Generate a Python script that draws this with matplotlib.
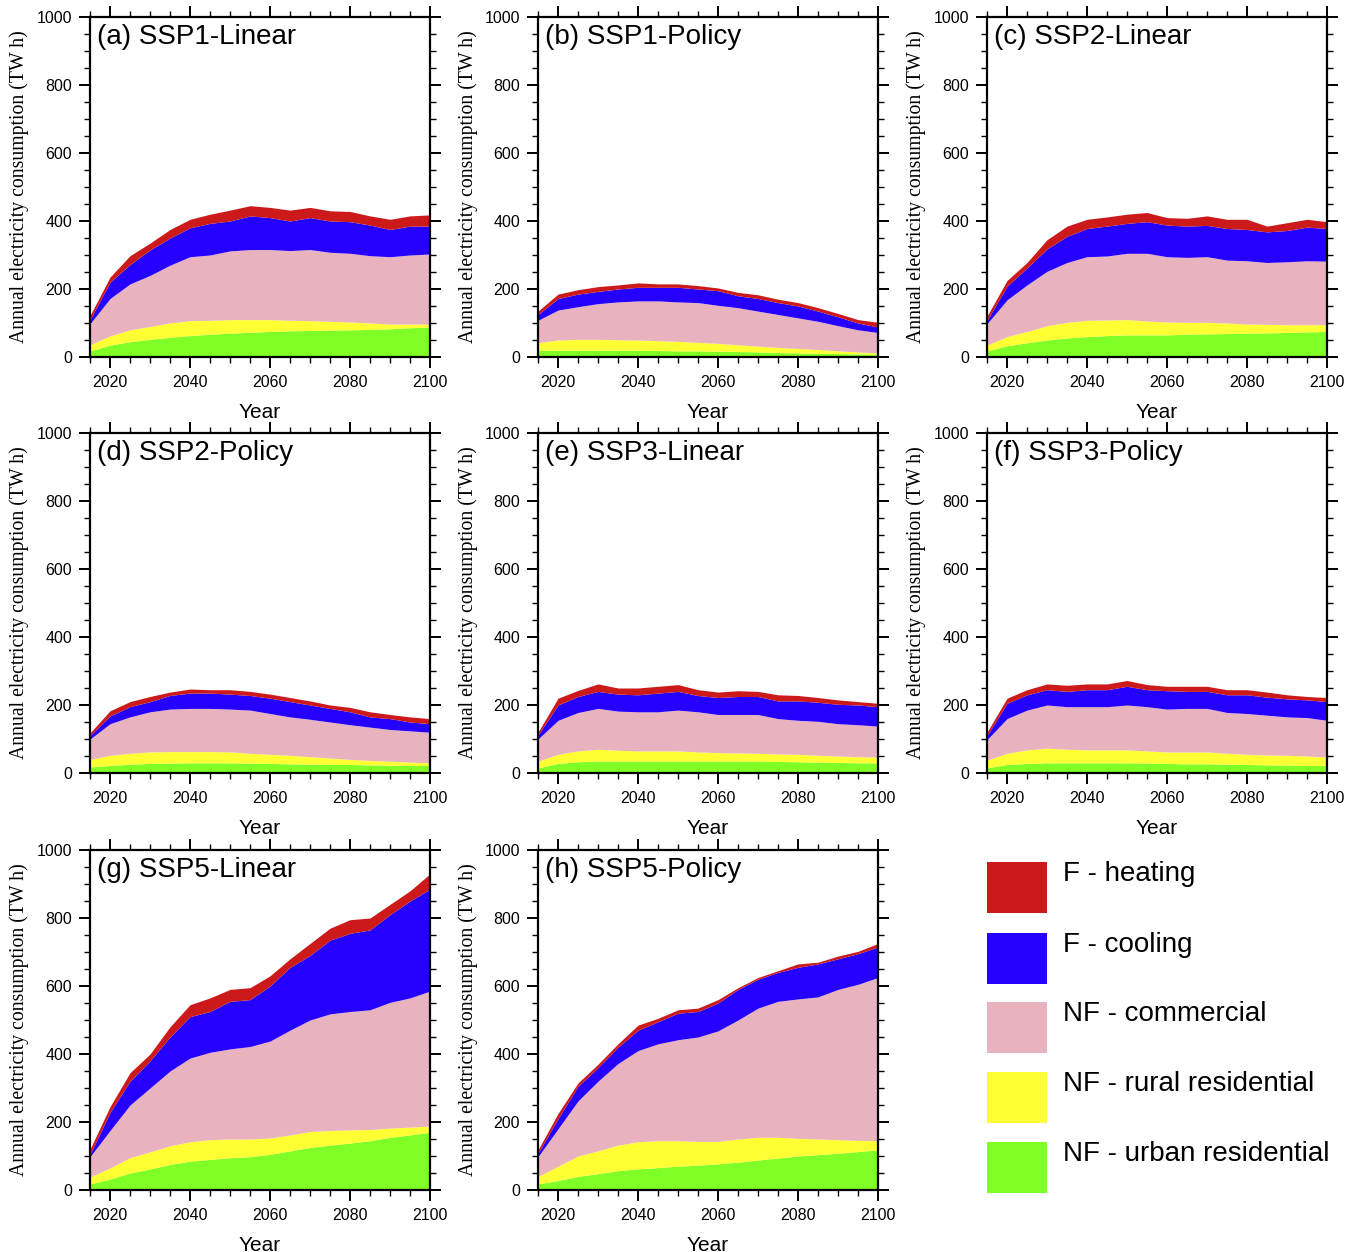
import matplotlib
matplotlib.use("Agg")
import matplotlib.pyplot as plt
from matplotlib.patches import Rectangle
import numpy as np

years = np.arange(2015, 2101, 5)

panels = ["(a) SSP1-Linear", "(b) SSP1-Policy", "(c) SSP2-Linear", "(d) SSP2-Policy",
          "(e) SSP3-Linear", "(f) SSP3-Policy", "(g) SSP5-Linear", "(h) SSP5-Policy"]

layer_names = ["NF - urban residential", "NF - rural residential", "NF - commercial",
               "F - cooling", "F - heating"]
layer_colors = ["#80ff26", "#ffff33", "#e8b3be", "#2600ff", "#cc1a1a"]

# cumulative top of each layer (TW h), read at 5-year steps
urban_top = [
    [18, 35, 45, 52, 58, 63, 67, 70, 73, 75, 77, 78, 79, 80, 81, 83, 86, 88],
    [20, 20, 20, 20, 20, 20, 19, 18, 18, 17, 16, 15, 13, 12, 11, 10, 9, 8],
    [18, 33, 42, 50, 56, 60, 63, 65, 65, 65, 67, 68, 69, 70, 71, 72, 74, 75],
    [18, 22, 26, 28, 29, 30, 30, 30, 29, 28, 27, 26, 25, 25, 24, 23, 22, 22],
    [15, 28, 33, 35, 35, 35, 35, 35, 35, 35, 35, 35, 34, 33, 32, 31, 30, 30],
    [15, 25, 28, 30, 30, 30, 30, 30, 29, 28, 27, 27, 26, 25, 24, 23, 22, 22],
    [18, 32, 50, 62, 75, 85, 90, 95, 98, 105, 115, 125, 132, 138, 145, 155, 162, 170],
    [18, 28, 40, 48, 57, 62, 66, 70, 73, 77, 82, 88, 94, 100, 104, 108, 113, 118],
]
rural_top = [
    [36, 62, 80, 90, 100, 107, 108, 110, 110, 110, 108, 107, 105, 103, 100, 97, 97, 97],
    [42, 50, 52, 52, 51, 50, 48, 46, 43, 40, 36, 32, 28, 25, 22, 18, 15, 12],
    [35, 60, 75, 92, 102, 108, 109, 110, 106, 103, 102, 102, 100, 97, 96, 95, 95, 95],
    [40, 52, 58, 62, 63, 63, 63, 62, 58, 55, 52, 48, 44, 40, 37, 35, 32, 30],
    [35, 55, 65, 70, 67, 65, 65, 65, 62, 60, 59, 58, 56, 55, 52, 50, 48, 47],
    [38, 58, 68, 73, 70, 68, 68, 68, 65, 62, 62, 62, 58, 55, 53, 52, 50, 47],
    [38, 65, 95, 112, 130, 142, 148, 150, 150, 153, 162, 172, 175, 177, 178, 182, 185, 188],
    [40, 70, 100, 115, 132, 142, 145, 145, 143, 143, 150, 155, 155, 152, 150, 148, 146, 145],
]
commercial_top = [
    [98, 172, 215, 240, 270, 295, 300, 312, 316, 316, 313, 316, 308, 305, 298, 295, 300, 303],
    [108, 138, 148, 157, 162, 165, 165, 162, 160, 152, 145, 135, 125, 115, 105, 92, 80, 72],
    [98, 168, 212, 252, 278, 295, 297, 305, 305, 295, 293, 295, 285, 283, 278, 280, 283, 282],
    [100, 145, 165, 180, 188, 190, 190, 188, 185, 175, 165, 158, 150, 142, 135, 128, 124, 120],
    [100, 155, 178, 190, 182, 180, 180, 185, 180, 172, 172, 172, 160, 155, 152, 145, 142, 138],
    [98, 160, 185, 200, 195, 195, 195, 200, 195, 188, 190, 190, 178, 175, 170, 165, 163, 155],
    [98, 175, 250, 300, 350, 388, 405, 415, 422, 438, 470, 500, 518, 525, 530, 552, 565, 585],
    [98, 180, 262, 320, 372, 410, 430, 442, 450, 468, 500, 535, 555, 562, 568, 590, 605, 625],
]
cooling_top = [
    [110, 220, 272, 315, 350, 380, 393, 400, 415, 410, 400, 410, 400, 398, 388, 375, 385, 385],
    [125, 172, 185, 193, 200, 205, 205, 205, 200, 195, 180, 172, 160, 150, 135, 118, 100, 88],
    [108, 208, 262, 318, 355, 378, 385, 393, 398, 388, 385, 387, 378, 375, 368, 372, 382, 378],
    [110, 168, 195, 210, 228, 235, 235, 232, 228, 220, 210, 200, 190, 180, 165, 160, 150, 145],
    [112, 200, 225, 240, 232, 230, 235, 240, 228, 222, 225, 225, 212, 212, 208, 202, 200, 195],
    [110, 205, 230, 245, 240, 245, 245, 255, 245, 242, 240, 240, 230, 230, 223, 218, 215, 210],
    [105, 228, 320, 380, 450, 510, 525, 555, 560, 600, 655, 690, 735, 755, 765, 810, 850, 885],
    [108, 210, 305, 360, 420, 470, 495, 520, 525, 550, 590, 620, 640, 655, 665, 680, 695, 715],
]
heating_top = [
    [122, 235, 298, 335, 375, 405, 420, 432, 445, 440, 432, 440, 430, 428, 415, 405, 415, 418],
    [135, 185, 198, 207, 212, 218, 215, 215, 210, 203, 190, 183, 170, 160, 145, 128, 110, 102],
    [120, 225, 278, 345, 385, 405, 412, 420, 425, 410, 408, 415, 405, 405, 385, 395, 405, 398],
    [118, 183, 210, 225, 238, 247, 245, 245, 240, 232, 222, 212, 200, 193, 180, 172, 165, 160],
    [120, 220, 243, 262, 250, 250, 255, 260, 245, 238, 242, 240, 230, 228, 222, 215, 210, 205],
    [120, 220, 245, 262, 258, 262, 262, 272, 260, 255, 255, 255, 245, 245, 238, 230, 225, 222],
    [120, 245, 345, 400, 480, 545, 565, 590, 595, 630, 680, 725, 770, 795, 800, 840, 880, 930],
    [118, 225, 315, 370, 430, 485, 505, 530, 535, 560, 595, 625, 645, 665, 670, 688, 702, 725],
]

W, H = 1353, 1252
fig = plt.figure(figsize=(W / 100, H / 100), dpi=100)

col_left = [90, 538, 987]
row_bottom = [357, 773, 1190]
size = 340

for i, title in enumerate(panels):
    r, c = divmod(i, 3)
    ax = fig.add_axes([col_left[c] / W, 1 - row_bottom[r] / H, size / W, size / H])
    tops = [urban_top[i], rural_top[i], commercial_top[i], cooling_top[i], heating_top[i]]
    lower = np.zeros(len(years))
    for top, col in zip(tops, layer_colors):
        top = np.array(top, dtype=float)
        ax.fill_between(years, lower, top, color=col, linewidth=0)
        lower = top
    ax.set_xlim(2015, 2100)
    ax.set_ylim(0, 1000)
    ax.set_xticks(range(2020, 2101, 20))
    ax.set_xticks(range(2015, 2101, 5), minor=True)
    ax.set_yticks(range(0, 1001, 200))
    ax.set_yticks(range(0, 1001, 50), minor=True)
    ax.tick_params(which="both", direction="out", top=True, right=True,
                   labelsize=11.5, width=1.4, pad=5)
    ax.tick_params(which="major", length=8)
    ax.tick_params(which="minor", length=4.5, width=1.0)
    for sp in ax.spines.values():
        sp.set_linewidth(1.6)
    for lab in ax.get_xticklabels() + ax.get_yticklabels():
        lab.set_family("Liberation Sans")
    ax.set_xlabel("Year", fontsize=15, family="Liberation Sans", labelpad=9)
    ax.set_ylabel("Annual electricity consumption (TW h)", fontsize=14.2,
                  family="Liberation Serif", labelpad=5)
    ax.text(0.02, 0.98, title, transform=ax.transAxes, ha="left", va="top",
            fontsize=20, family="Liberation Sans")

# legend block
lax = fig.add_axes([0, 0, 1, 1])
lax.set_xlim(0, W)
lax.set_ylim(H, 0)
lax.axis("off")
legend_rows = [862, 933, 1002, 1072, 1142]
for y0, name, col in zip(legend_rows, layer_names[::-1], layer_colors[::-1]):
    lax.add_patch(Rectangle((987, y0), 60, 51, facecolor=col, edgecolor="none"))
    lax.text(1063, y0 + 12, name, ha="left", va="center", fontsize=20,
             family="Liberation Sans")

fig.savefig("out.png", dpi=100)
